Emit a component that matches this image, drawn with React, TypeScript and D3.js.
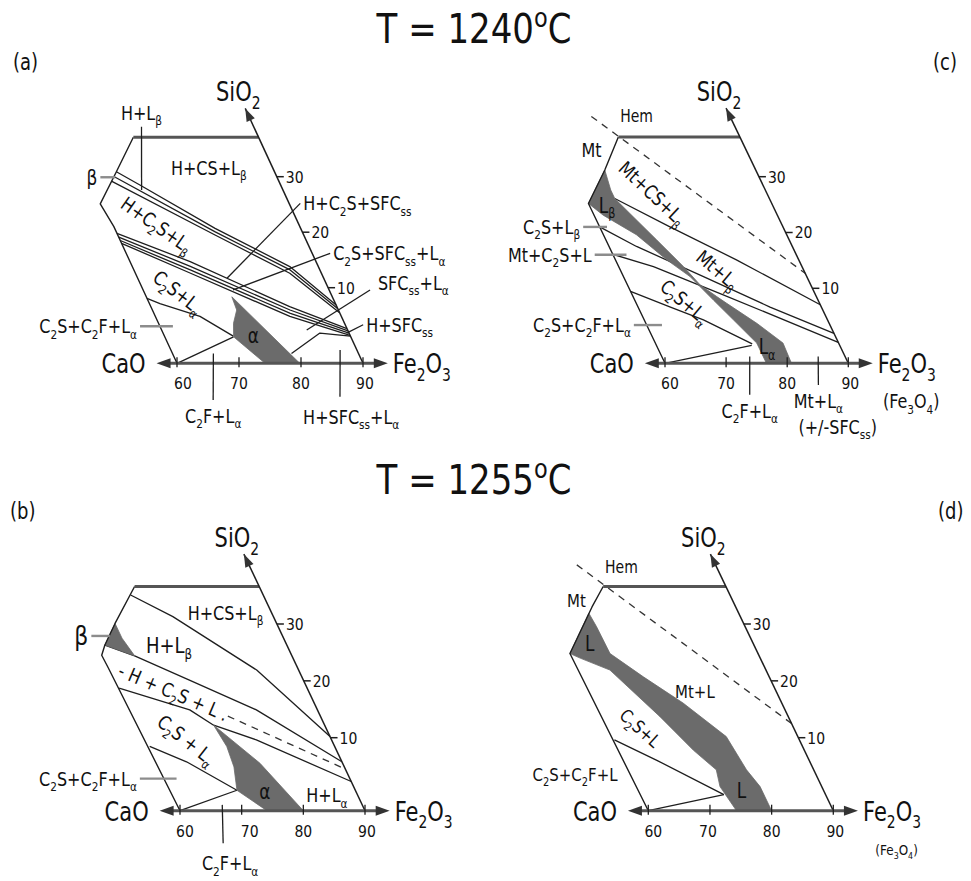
import React from "react";
import * as d3 from "d3";

// A composition point: [Fe2O3 wt%, SiO2 wt%]
type P = [number, number];

const FE_TICKS = [60, 70, 80, 90];
const SI_TICKS = [10, 20, 30];
const FE_AXIS_RANGE: P = [56.7, 94];
const SI_ARROW_TIP = 42.3;

// ---------------- (a) 1240 °C, air ----------------
const aTopLevel = 37.1;
const aLeftEdge: P[] = [[69.8, 37.1], [64.5, 30.9], [59.5, 25.1], [60, 21], [60, 0]];
const aBoundaries: P[][] = [
  [[64.5, 30.9], [67.3, 28.5], [76.2, 20.7], [85.4, 13.8], [90, 7.7]],
  [[63.8, 30.0], [75.9, 20.1], [85.2, 13.2], [90, 7.2]],
  [[63.0, 29.2], [75.7, 19.5], [84.9, 12.6], [90, 6.7]],
  [[60, 19.8], [69.7, 14.7], [82.4, 7.5], [90, 4.6]],
  [[60, 19.1], [69.3, 13.9], [82.2, 7.05], [90, 4.3]],
  [[60, 18.5], [69.1, 13.2], [82.0, 6.6], [90, 4.0]],
  [[60, 18.0], [68.9, 12.6], [81.7, 6.2], [90, 3.7]],
  [[60, 8.6], [61.7, 7.9], [67.2, 6.2], [71.1, 3.6]],
  [[60, 0], [71.1, 3.5]],
  [[79.2, 1.3], [85.3, 4.0], [90, 3.6]],
];
const aLiquidAlpha: P[] = [[73.8, 8.8], [73.6, 7.05], [72.1, 5.3], [71.1, 3.5], [74.2, 0], [79.8, 0]];
const aLabels = [
  { text: "H+CS+L_β", at: [79.7, 31.6] as P },
  { text: "H+C_2S+L_β", at: [67.1, 21.3] as P, rot: 35 },
  { text: "C_2S+L_α", at: [65.5, 9.4] as P, rot: 38 },
  { text: "α", at: [74.4, 3.7] as P, kind: "phase" },
];
const aLeaders = [
  { text: "β", from: [63.9, 29.9] as P, to: [61.5, 29.9] as P, side: "left", tick: true, kind: "phase" },
  { text: "H+L_β", from: [67.2, 27.6] as P, to: [71.9, 39.0] as P, side: "above" },
  { text: "C_2S+C_2F+L_α", from: [62.1, 4.9] as P, to: [56.8, 4.9] as P, side: "left", tick: true },
  { text: "C_2F+L_α", from: [66.6, 1.3] as P, to: [63.1, -4.85] as P, side: "below" },
  { text: "H+SFC_{ss}+L_α", from: [87.3, 1.76] as P, to: [83.8, -4.42] as P, side: "below", textAt: [84.1, -7.1] as P },
  { text: "H+C_2S+SFC_{ss}", from: [74.4, 11.7] as P, to: [91.8, 25.2] as P, side: "right" },
  { text: "C_2S+SFC_{ss}+L_α", from: [74.5, 9.7] as P, to: [92.9, 16.2] as P, side: "right" },
  { text: "SFC_{ss}+L_α", from: [83.4, 4.4] as P, to: [96.6, 9.7] as P, side: "right", textAt: [98.4, 10.85] as P },
  { text: "H+SFC_{ss}", from: [89.6, 4.0] as P, to: [92.9, 5.1] as P, side: "right" },
];

// ---------------- (c) 1240 °C, reducing ----------------
const cTopLevel = 37.1;
const cLeftEdge: P[] = [[70.1, 37.1], [65.3, 31.2], [60, 25.2], [60, 0]];
const cHemMtBoundary: P[] = [[67.3, 40.8], [90, 12.7]];
const cBoundaries: P[][] = [
  [[64.7, 26.1], [71.5, 21.0], [79.8, 15.1], [90, 7.8]],
  [[60, 21.0], [64.5, 17.5], [73.1, 12.1], [81.6, 7.5], [90, 4.0]],
  [[60, 16.1], [65.7, 13.9], [74.5, 9.3], [90, 2.8]],
  [[60, 9.6], [65.3, 7.5], [69.7, 5.8], [75.8, 2.6]],
  [[60, 0], [75.6, 2.4]],
];
const cLiquid: P[] = [
  [65.3, 31.2], [64.7, 27.6], [64.7, 26.1], [66.0, 23.4], [68.3, 18.7], [70.6, 13.9], [71.9, 10.6],
  [73.7, 8.9], [74.8, 8.0], [78.2, 5.3], [80.9, 2.7], [80.7, 0], [76.6, 0], [76.6, 2.7], [74.6, 5.8],
  [72.9, 8.4], [70.9, 12.1], [68.4, 15.1], [65.4, 19.6], [61.5, 23.1], [60, 25.2],
];
const cLabels = [
  { text: "Hem", at: [74.7, 40.8] as P, kind: "small" },
  { text: "Mt", at: [64.7, 34.8] as P },
  { text: "Mt+CS+L_β", at: [71.3, 27.0] as P, rot: 43 },
  { text: "L_β", at: [62.9, 24.9] as P, kind: "phase" },
  { text: "Mt+L_β", at: [76.0, 13.3] as P, rot: 40 },
  { text: "C_2S+L_α", at: [68.1, 8.2] as P, rot: 40 },
  { text: "L_α", at: [78.0, 2.2] as P, kind: "phase" },
  { text: "(+/-SFC_{ss})", at: [83.3, -8.45] as P },
  { text: "(Fe_3O_4)", at: [97.3, -5.1] as P },
];
const cLeaders = [
  { text: "C_2S+L_β", from: [61.2, 21.0] as P, to: [57.3, 21.0] as P, side: "left", tick: true },
  { text: "Mt+C_2S+L", from: [62.2, 16.0] as P, to: [57.0, 16.0] as P, side: "left", tick: true },
  { text: "C_2S+C_2F+L_α", from: [62.5, 5.1] as P, to: [57.9, 5.1] as P, side: "left", tick: true },
  { text: "C_2F+L_α", from: [74.4, 0.9] as P, to: [71.4, -4.2] as P, side: "below" },
  { text: "Mt+L_α", from: [85.6, 0.9] as P, to: [83.4, -2.9] as P, side: "below" },
];

// ---------------- (b) 1255 °C, air ----------------
const bTopLevel = 36.6;
const bLeftEdge: P[] = [[69.8, 36.6], [63.8, 30.1], [60.5, 26.3], [59.2, 24.5], [59.3, 22.3], [60, 0]];
const bBoundaries: P[][] = [
  [[68.5, 35.1], [73.7, 31.3], [83.2, 21.9], [90, 10.2]],
  [[60.5, 26.3], [64.5, 24.4], [71.6, 20.1], [80.1, 14.9], [90, 6.7]],
  [[59.5, 18.7], [69.3, 14.9], [72.0, 12.2], [77.8, 9.7], [90, 4.0]],
  [[60, 8.8], [64.8, 6.7], [70.8, 2.8]],
  [[60, 0], [70.8, 2.8]],
];
const bDashed: P[][] = [[[75.0, 13.8], [89.8, 5.8]]];
const bLiquidBeta: P[] = [[63.8, 30.1], [63.8, 27.5], [64.5, 24.4], [60.5, 26.3]];
const bLiquidAlpha: P[] = [[72.0, 12.2], [72.5, 8.8], [72.1, 6.0], [70.8, 2.8], [74.1, 0], [80, 0], [76.6, 6.5]];
const bLabels = [
  { text: "H+CS+L_β", at: [82.5, 31.9] as P },
  { text: "H+L_β", at: [70.9, 26.3] as P, kind: "big" },
  { text: "- H + C_2S + L .", at: [68.0, 18.0] as P, rot: 23 },
  { text: "C_2S + L_α", at: [66.5, 9.7] as P, rot: 38 },
  { text: "α", at: [75.2, 2.6] as P, kind: "phase" },
  { text: "H+L_α", at: [85.0, 2.1] as P },
];
const bLeaders = [
  { text: "β", from: [62.0, 27.9] as P, to: [59.0, 27.9] as P, side: "left", tick: true, kind: "beta" },
  { text: "C_2S+C_2F+L_α", from: [61.9, 4.4] as P, to: [55.95, 4.4] as P, side: "left", tick: true },
  { text: "C_2F+L_α", from: [67.3, 0.8] as P, to: [64.5, -4.47] as P, side: "below", textAt: [64.1, -7.2] as P },
];

// ---------------- (d) 1255 °C, reducing ----------------
const dTopLevel = 36.6;
const dLeftEdge: P[] = [[70.1, 36.6], [66.7, 33.0], [59.5, 24.8], [60, 0]];
const dHemMtBoundary: P[] = [[67.5, 40.4], [90, 12.5]];
const dBoundaries: P[][] = [
  [[60, 9.7], [65.3, 6.9], [73.5, 2.2]],
  [[60, 0], [73.5, 2.2]],
];
const dLiquid: P[] = [
  [65.7, 31.9], [65.9, 29.5], [66.0, 24.8], [69.6, 20.7], [74.0, 16.1], [78.4, 10.2], [79.1, 5.6],
  [80.0, 3.3], [80.0, 0], [74.3, 0], [73.5, 3.3], [74.2, 5.6], [72.0, 8.3], [69.2, 13.7], [64.7, 21.9],
  [60.8, 24.0], [59.5, 24.8],
];
const dLabels = [
  { text: "Hem", at: [74.6, 40.1] as P, kind: "small" },
  { text: "Mt", at: [64.7, 34.2] as P },
  { text: "L", at: [63.5, 26.6] as P, kind: "phase" },
  { text: "Mt+L", at: [76.8, 18.1] as P },
  { text: "C_2S+L", at: [65.1, 11.7] as P, rot: 42 },
  { text: "L", at: [76.7, 2.8] as P, kind: "phase" },
  { text: "C_2S+C_2F+L", at: [50.9, 4.9] as P },
  { text: "(Fe_3O_4)", at: [97.2, -5.4] as P, kind: "tiny" },
];

// ---------------- layout & styling ----------------
interface Frame { x60: number; x90: number; yBase: number; y10: number; y30: number; shear: number }
interface Label { text: string; at: P; rot?: number; kind?: string }
interface Leader { text: string; from: P; to: P; side: string; tick?: boolean; kind?: string; textAt?: P }
interface PanelCfg {
  frame: Frame; top: number; left: P[]; lines: P[][]; dashed: P[][]; fills: P[][];
  labels: Label[]; leaders: Leader[]; textSize: number; tickShift: Record<number, number>;
}

const LINE = "#1e1e1e";
const AXIS = "#555";
const FILL = "#6b6b6b";
const TICK = "#8c8c8c";
const FONT = "'DejaVu Sans', Verdana, sans-serif";

const panels: PanelCfg[] = [
  {
    frame: { x60: 177, x90: 363, yBase: 363.3, y10: 287.7, y30: 176.7, shear: 0.462 },
    top: aTopLevel, left: aLeftEdge, lines: aBoundaries, dashed: [], fills: [aLiquidAlpha],
    labels: aLabels, leaders: aLeaders, textSize: 16, tickShift: { 60: 6, 90: 2 },
  },
  {
    frame: { x60: 665, x90: 848.3, yBase: 363.3, y10: 288.3, y30: 176.7, shear: 0.479 },
    top: cTopLevel, left: cLeftEdge, lines: cBoundaries, dashed: [cHemMtBoundary], fills: [cLiquid],
    labels: cLabels, leaders: cLeaders, textSize: 16, tickShift: { 60: 5, 90: 2 },
  },
  {
    frame: { x60: 180, x90: 365, yBase: 810.7, y10: 737.7, y30: 624, shear: 0.472 },
    top: bTopLevel, left: bLeftEdge, lines: bBoundaries, dashed: bDashed, fills: [bLiquidBeta, bLiquidAlpha],
    labels: bLabels, leaders: bLeaders, textSize: 16, tickShift: { 60: 5, 70: 8, 90: 2 },
  },
  {
    frame: { x60: 648.3, x90: 833.3, yBase: 810.7, y10: 737.7, y30: 624, shear: 0.479 },
    top: dTopLevel, left: dLeftEdge, lines: dBoundaries, dashed: [dHemMtBoundary], fills: [dLiquid],
    labels: dLabels, leaders: [], textSize: 15, tickShift: { 60: 5, 70: -2, 90: 2 },
  },
];

function makeProj(fr: Frame) {
  const xs = d3.scaleLinear().domain([60, 90]).range([fr.x60, fr.x90]);
  const ys = d3.scaleLinear().domain([0, 10, 30]).range([fr.yBase, fr.y10, fr.y30]);
  return ([f, s]: P): [number, number] => {
    const y = ys(s);
    return [xs(f) - fr.shear * (fr.yBase - y), y];
  };
}

type Seg = { t: string; kind: "norm" | "sub" | "sup" };
function parseRich(s: string): Seg[] {
  const out: Seg[] = [];
  let buf = "";
  let i = 0;
  while (i < s.length) {
    const c = s[i];
    if ((c === "_" || c === "^") && i + 1 < s.length) {
      if (buf) { out.push({ t: buf, kind: "norm" }); buf = ""; }
      let t: string;
      if (s[i + 1] === "{") {
        const j = s.indexOf("}", i + 2);
        t = s.slice(i + 2, j);
        i = j + 1;
      } else {
        t = s[i + 1];
        i += 2;
      }
      out.push({ t, kind: c === "_" ? "sub" : "sup" });
    } else {
      buf += c;
      i++;
    }
  }
  if (buf) out.push({ t: buf, kind: "norm" });
  return out;
}

function RichText(props: {
  x: number; y: number; text: string; size: number; anchor?: string; rot?: number; sy?: number; fill?: string;
}) {
  const { x, y, text, size, anchor = "middle", rot = 0, sy = 1.2, fill = "#111" } = props;
  const segs = parseRich(text);
  let cur = 0;
  const spans = segs.map((seg, i) => {
    const target = seg.kind === "sub" ? size * 0.28 : seg.kind === "sup" ? -size * 0.38 : 0;
    const dy = target - cur;
    cur = target;
    return (
      <tspan key={i} dy={dy} fontSize={seg.kind === "norm" ? size : size * 0.66}>
        {seg.t}
      </tspan>
    );
  });
  return (
    <g transform={`translate(${x},${y}) rotate(${rot}) scale(1,${sy})`}>
      <text
        y={size * 0.36}
        textAnchor={anchor as any}
        fontFamily={FONT}
        fill={fill}
        style={{ whiteSpace: "pre" }}
      >
        {spans}
      </text>
    </g>
  );
}

function arrowHead(tip: [number, number], from: [number, number], len = 13, half = 5) {
  const dx = tip[0] - from[0];
  const dy = tip[1] - from[1];
  const L = Math.hypot(dx, dy);
  const ux = dx / L;
  const uy = dy / L;
  const bx = tip[0] - ux * len;
  const by = tip[1] - uy * len;
  return `M${tip[0]},${tip[1]}L${bx - uy * half},${by + ux * half}L${bx + uy * half},${by - ux * half}Z`;
}

const sizeFor = (kind: string | undefined, base: number) =>
  kind === "phase" ? 17 : kind === "big" ? 18 : kind === "small" ? 14 : kind === "tiny" ? 12 : kind === "beta" ? 22 : base;

function Panel({ cfg }: { cfg: PanelCfg }) {
  const proj = makeProj(cfg.frame);
  const line = d3.line<P>().x((d) => proj(d)[0]).y((d) => proj(d)[1]);

  const caoTip = proj([FE_AXIS_RANGE[0], 0]);
  const feTip = proj([FE_AXIS_RANGE[1], 0]);
  const edgeBase = proj([90, 0]);
  const siTip = proj([90, SI_ARROW_TIP]);
  const topLeft = cfg.left[0];

  return (
    <g>
      {/* phase boundaries */}
      {cfg.lines.map((pts, i) => (
        <path key={`l${i}`} d={line(pts) || ""} fill="none" stroke={LINE} strokeWidth={1.3} strokeLinejoin="round" />
      ))}
      {cfg.dashed.map((pts, i) => (
        <path key={`dl${i}`} d={line(pts) || ""} fill="none" stroke="#333" strokeWidth={1.3} strokeDasharray="7 6" />
      ))}
      {/* liquid fields */}
      {cfg.fills.map((pts, i) => (
        <path key={`f${i}`} d={(line(pts) || "") + "Z"} fill={FILL} stroke={FILL} strokeWidth={0.8} strokeLinejoin="round" />
      ))}
      {/* diagram outline */}
      <path d={line(cfg.left) || ""} fill="none" stroke={LINE} strokeWidth={1.4} strokeLinejoin="round" />
      <path d={line([topLeft, [90, cfg.top]]) || ""} fill="none" stroke={AXIS} strokeWidth={3} />
      <path d={line([[90, 0], [90, SI_ARROW_TIP]]) || ""} fill="none" stroke={LINE} strokeWidth={1.5} />
      <path d={arrowHead(siTip, edgeBase, 13, 4.5)} fill="#333" />
      {/* base axis */}
      <line x1={caoTip[0] + 8} y1={caoTip[1]} x2={feTip[0] - 8} y2={feTip[1]} stroke={AXIS} strokeWidth={3} />
      <path d={arrowHead(caoTip, [caoTip[0] + 10, caoTip[1]], 14, 5)} fill="#333" />
      <path d={arrowHead(feTip, [feTip[0] - 10, feTip[1]], 14, 5)} fill="#333" />
      {FE_TICKS.map((t) => {
        const [x, y] = proj([t, 0]);
        return (
          <g key={`ft${t}`}>
            <line x1={x} y1={y - 6} x2={x} y2={y + 4} stroke={LINE} strokeWidth={1.3} />
            <RichText x={x + (cfg.tickShift[t] || 0)} y={y + 20} text={String(t)} size={14} sy={1.15} />
          </g>
        );
      })}
      {SI_TICKS.map((t) => {
        const [x, y] = proj([90, t]);
        return (
          <g key={`st${t}`}>
            <line x1={x} y1={y} x2={x + 7} y2={y} stroke={LINE} strokeWidth={1.5} />
            <RichText x={x + 9} y={y} text={String(t)} size={14} sy={1.15} anchor="start" />
          </g>
        );
      })}
      <RichText x={caoTip[0] - 11} y={caoTip[1]} text="CaO" size={21} sy={1.3} anchor="end" />
      <RichText x={feTip[0] + 5} y={feTip[1]} text="Fe_2O_3" size={21} sy={1.3} anchor="start" />
      <RichText x={siTip[0] - 7} y={siTip[1] - 17} text="SiO_2" size={21} sy={1.3} />
      {/* leaders with their field names */}
      {cfg.leaders.map((ld, i) => {
        const a = proj(ld.from);
        const b = proj(ld.to);
        const size = sizeFor(ld.kind, cfg.textSize);
        let tx = b[0];
        let ty = b[1];
        let anchor = "middle";
        if (ld.side === "left") { tx = b[0] - 3; anchor = "end"; }
        else if (ld.side === "right") { tx = b[0] + 3; anchor = "start"; }
        else if (ld.side === "below") { ty = b[1] + 16; }
        else if (ld.side === "above") { ty = b[1] - 14; }
        if (ld.textAt) { const p = proj(ld.textAt); tx = p[0]; ty = p[1]; }
        return (
          <g key={`ld${i}`}>
            <line
              x1={a[0]} y1={a[1]} x2={b[0]} y2={b[1]}
              stroke={ld.tick ? TICK : LINE}
              strokeWidth={ld.tick ? 2.4 : 1.3}
            />
            <RichText x={tx} y={ty} text={ld.text} size={size} anchor={anchor} />
          </g>
        );
      })}
      {cfg.labels.map((lb, i) => {
        const [x, y] = proj(lb.at);
        return <RichText key={`lb${i}`} x={x} y={y} text={lb.text} size={sizeFor(lb.kind, cfg.textSize)} rot={lb.rot || 0} />;
      })}
    </g>
  );
}

const titles = [
  { text: "T = 1240^oC", y: 28 },
  { text: "T = 1255^oC", y: 479 },
];
const panelTags = [
  { text: "(a)", x: 13, y: 62 },
  { text: "(c)", x: 933, y: 62 },
  { text: "(b)", x: 10, y: 511 },
  { text: "(d)", x: 938, y: 511 },
];

export default function App() {
  return (
    <svg
      width={971}
      height={881}
      viewBox="0 0 971 881"
      style={{ position: "absolute", left: 0, top: 0, background: "#fff" }}
    >
      <rect x={0} y={0} width={971} height={881} fill="#fff" />
      {titles.map((t, i) => (
        <RichText key={`t${i}`} x={474} y={t.y} text={t.text} size={34} sy={1.22} />
      ))}
      {panelTags.map((t, i) => (
        <RichText key={`pt${i}`} x={t.x} y={t.y} text={t.text} size={18} sy={1.25} anchor="start" />
      ))}
      {panels.map((p, i) => (
        <Panel key={i} cfg={p} />
      ))}
    </svg>
  );
}
